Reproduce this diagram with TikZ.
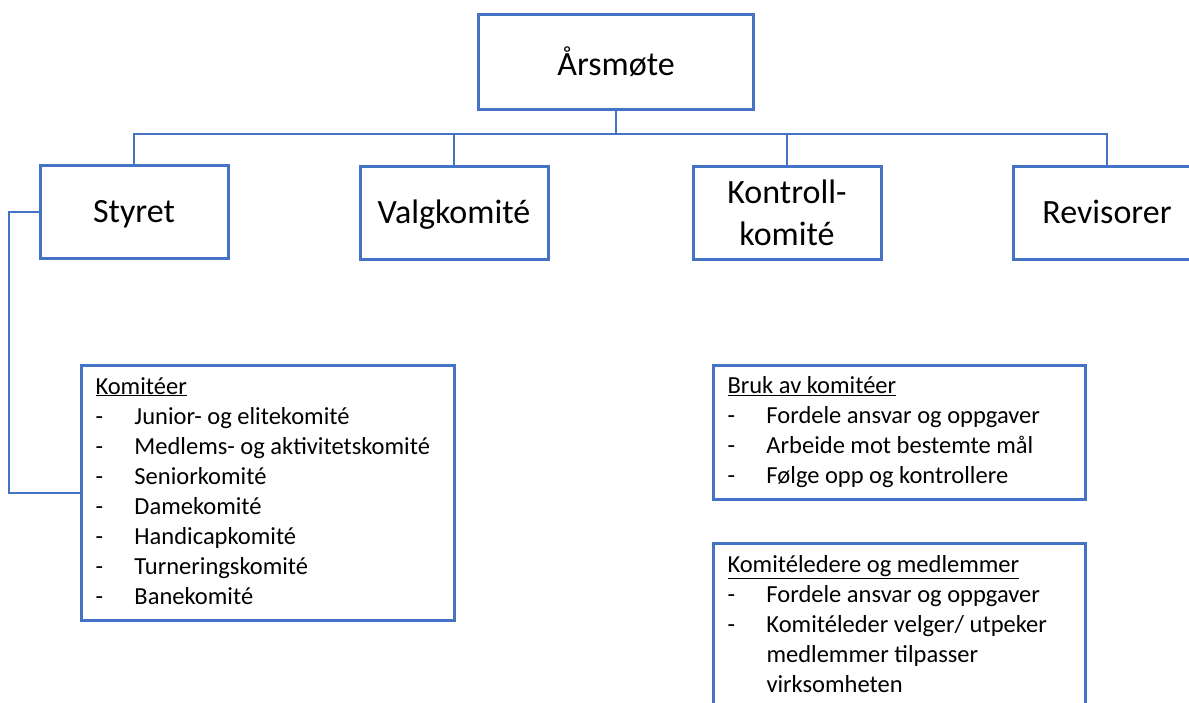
\documentclass[tikz,border=0pt]{standalone}
\usepackage{fontspec}
\setmainfont{Carlito}
\usetikzlibrary{positioning}
\definecolor{boxblue}{HTML}{4472C4}
\tikzset{
  orgbox/.style={rectangle, draw=boxblue, line width=3pt, minimum width=188pt, minimum height=93pt, align=center, font=\fontsize{34}{42}\selectfont},
  oneline/.style={text height=24pt, text depth=3pt},
  listbox/.style={rectangle, draw=boxblue, line width=3pt, anchor=north west, inner xsep=14pt, inner ysep=0pt, font=\fontsize{24.5}{30}\selectfont},
  link/.style={draw=boxblue, line width=2pt}
}
\newcommand{\listhead}[1]{\multicolumn{2}{@{}l@{}}{\underline{#1}}}

\begin{document}
\begin{tikzpicture}[x=1pt, y=-1pt]
                    \path[use as bounding box, clip] (0,0) rectangle (1189,702);

                    \node[orgbox, minimum width=275pt, minimum height=95pt] (aarsmote) at (616, 61.5) {Årsmøte};
                    \node[orgbox, oneline] (styret) at (134, 212) {Styret};
                    \node[orgbox, oneline] (valg) at (454, 213) {Valgkomité};
                    \node[orgbox] (kontroll) at (787, 213) {Kontroll-\\komité};
                    \node[orgbox, oneline] (revisorer) at (1107, 213) {Revisorer};

                    \node[listbox, minimum height=255pt] (komiteer) at (80, 364) {\begin{tabular}{@{}p{39pt}@{}p{306pt}@{}}
                        \listhead{Komitéer}\\
                        - & Junior- og elitekomité\\
                        - & Medlems- og aktivitetskomité\\
                        - & Seniorkomité\\
                        - & Damekomité\\
                        - & Handicapkomité\\
                        - & Turneringskomité\\
                        - & Banekomité
                    \end{tabular}};
                    \node[listbox, minimum height=134pt] (bruk) at (712, 364) {\begin{tabular}{@{}p{39pt}@{}p{305pt}@{}}
                        \listhead{Bruk av komitéer}\\
                        - & Fordele ansvar og oppgaver\\
                        - & Arbeide mot bestemte mål\\
                        - & Følge opp og kontrollere
                    \end{tabular}};
                    \node[listbox, minimum height=166pt] (ledere) at (712, 542) {\begin{tabular}{@{}p{39pt}@{}p{305pt}@{}}
                        \listhead{Komitéledere og medlemmer}\\
                        - & Fordele ansvar og oppgaver\\
                        - & Komitéleder velger/ utpeker\\
                          & medlemmer tilpasser\\
                          & virksomheten
                    \end{tabular}};

                    \draw[link] (aarsmote.south) -- ++(0,23) -| (styret.north);
                    \draw[link] (aarsmote.south) -- ++(0,23) -| (valg.north);
                    \draw[link] (aarsmote.south) -- ++(0,23) -| (kontroll.north);
                    \draw[link] (aarsmote.south) -- ++(0,23) -| (revisorer.north);
                    \draw[link] (styret.west) -- ++(-30,0) |- (komiteer.west);
                \end{tikzpicture}
\end{document}
